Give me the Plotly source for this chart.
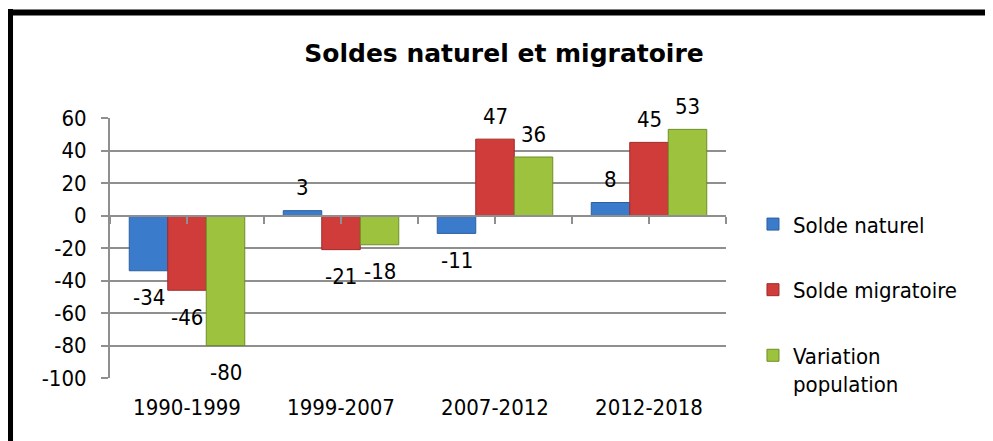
import plotly.graph_objects as go

# ---- data ----
categories = ["1990-1999", "1999-2007", "2007-2012", "2012-2018"]
solde_naturel = [-34, 3, -11, 8]
solde_migratoire = [-46, -21, 47, 45]
variation_population = [-80, -18, 36, 53]
series_names = ["Solde naturel", "Solde migratoire", "Variation<br>population"]
y_ticks = [-100, -80, -60, -40, -20, 0, 20, 40, 60]
title_text = "Soldes naturel et migratoire"

# ---- styles ----
FONT = "DejaVu Sans Condensed, DejaVu Sans, sans-serif"
fills = ["#3b7bcb", "#d03c39", "#9cc23e"]
edges = ["#2c5f9e", "#9e2b28", "#6f8d28"]
GRID = "#8f8f8f"
BARGAP = 0.25
W, H = 985, 433  # page body has an 8px margin

series = [solde_naturel, solde_migratoire, variation_population]

fig = go.Figure()
for i, (name, vals) in enumerate(zip(series_names, series)):
    fig.add_trace(go.Bar(
        x=categories, y=vals, name=name,
        marker=dict(color=fills[i], line=dict(color=edges[i], width=1)),
        legendgroup=f"g{i}",
    ))

# data labels (Excel style "outside end")
bar_w = (1 - BARGAP) / len(series)
annotations = []
for i, vals in enumerate(series):
    off = (i - (len(series) - 1) / 2) * bar_w
    for j, v in enumerate(vals):
        annotations.append(dict(
            x=j + off, y=v, xref="x", yref="y", text=str(v), showarrow=False,
            yanchor="middle", xanchor="center",
            yshift=23 if v >= 0 else -27,
            font=dict(family=FONT, size=22, color="#000000"),
        ))

# frame (black border, partially cropped)
shapes = [
    dict(type="line", xref="paper", yref="paper", x0=-0.1623, x1=-0.1623, y0=1.419, y1=-0.3,
         line=dict(color="black", width=6)),
    dict(type="line", xref="paper", yref="paper", x0=-0.1672, x1=1.46, y0=1.4058, y1=1.4058,
         line=dict(color="black", width=6)),
]

fig.update_layout(
    width=W, height=H,
    margin=dict(l=102, r=267, t=110, b=63),
    paper_bgcolor="white", plot_bgcolor="white",
    barmode="group", bargap=BARGAP, bargroupgap=0,
    font=dict(family=FONT, size=22, color="#000000"),
    title=dict(text="<b>" + title_text + "</b>", x=496 / W, xref="container", xanchor="center",
               y=1 - 45 / H, yref="container", yanchor="middle",
               font=dict(family="DejaVu Sans, sans-serif", size=25, color="#000000")),
    showlegend=True,
    legend=dict(x=1.0438, xanchor="left", y=0.672, yanchor="top", traceorder="grouped",
                tracegroupgap=34, valign="top", bgcolor="rgba(0,0,0,0)",
                font=dict(family=FONT, size=22, color="#000000")),
    xaxis=dict(type="category", range=[-0.5, 3.5], showgrid=False, showline=False, zeroline=False,
               ticks="", ticklabelstandoff=14, tickfont=dict(family=FONT, size=22)),
    xaxis2=dict(overlaying="x", anchor="free", position=0.625, range=[-0.5, 3.5],
                tickvals=[k * 0.5 - 0.5 for k in range(9)], showticklabels=False,
                ticks="outside", ticklen=7, tickwidth=2, tickcolor=GRID,
                showline=True, linecolor=GRID, linewidth=2, showgrid=False, zeroline=False),
    yaxis=dict(range=[-100, 60], tickvals=y_ticks, ticktext=[str(v) for v in y_ticks],
               showgrid=True, gridcolor=GRID, gridwidth=2,
               zeroline=False, showline=True, linecolor=GRID, linewidth=2,
               ticks="outside", ticklen=7, tickwidth=2, tickcolor=GRID,
               ticklabelstandoff=10, tickfont=dict(family=FONT, size=22)),
    annotations=annotations,
    shapes=shapes,
)

# invisible trace to activate xaxis2
fig.add_trace(go.Scatter(x=[0], y=[0], xaxis="x2", mode="markers", marker=dict(opacity=0),
                         showlegend=False, hoverinfo="skip"))

fig.write_html("out.html")
